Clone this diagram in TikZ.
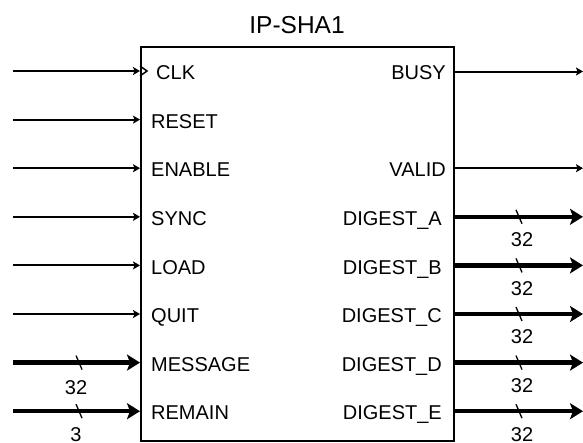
\documentclass[tikz,border=0pt]{standalone}
\usepackage{fontspec}
\setmainfont{Liberation Sans}
\usetikzlibrary{arrows.meta,calc}
\begin{document}
\begin{tikzpicture}[x=1pt,y=-1pt,
  lbl/.style={inner sep=0pt,font=\fontsize{20}{24}\selectfont},
  inl/.style={lbl,anchor=base west},
  outl/.style={lbl,anchor=base east},
  wid/.style={lbl,anchor=center},
  sig/.style={line width=2pt,-{Stealth[length=7pt,width=8pt,inset=1.5pt]}},
  bus/.style={line width=4.5pt,-{Stealth[length=13pt,width=16pt,inset=3pt]}},
  tick/.style={line width=1.3pt},
  box/.style={draw,line width=2pt,minimum width=313pt,minimum height=394pt,inner sep=0pt}]
\useasboundingbox (0,0) rectangle (583,442);
\node[box] (ip) at (297.5,244) {};
\node[lbl,font=\fontsize{24.5}{28}\selectfont] (title) at (297,25) {IP-SHA1};
% input coordinates
\coordinate (iclk) at (13,71);
\coordinate (irst) at (13,119.6);
\coordinate (ien) at (13,168.2);
\coordinate (isync) at (13,216.8);
\coordinate (iload) at (13,265.4);
\coordinate (iquit) at (13,314);
\coordinate (imsg) at (13,362.6);
\coordinate (irem) at (13,411.2);
% output coordinates
\coordinate (obusy) at (583,71.5);
\coordinate (ovalid) at (583,168.2);
\coordinate (oa) at (583,216.8);
\coordinate (ob) at (583,265.4);
\coordinate (oc) at (583,314);
\coordinate (od) at (583,362.6);
\coordinate (oe) at (583,411.2);
% input signals
\draw[sig] (iclk) -- (iclk -| ip.west);
\draw[sig] (irst) -- (irst -| ip.west);
\draw[sig] (ien) -- (ien -| ip.west);
\draw[sig] (isync) -- (isync -| ip.west);
\draw[sig] (iload) -- (iload -| ip.west);
\draw[sig] (iquit) -- (iquit -| ip.west);
\draw[bus] (imsg) -- coordinate[pos=0.52] (tmsg) (imsg -| ip.west);
\draw[bus] (irem) -- coordinate[pos=0.52] (trem) (irem -| ip.west);
% clock mark
\coordinate (ck) at (iclk -| ip.west);
\draw[line width=1.5pt,line join=miter] ($(ck)+(0,-5)$) -- ($(ck)+(7,0)$) -- ($(ck)+(0,5)$);
% output signals
\draw[sig] (obusy -| ip.east) -- (obusy);
\draw[sig] (ovalid -| ip.east) -- (ovalid);
\draw[bus] (oa -| ip.east) -- coordinate[pos=0.5] (ta) (oa);
\draw[bus] (ob -| ip.east) -- coordinate[pos=0.5] (tb) (ob);
\draw[bus] (oc -| ip.east) -- coordinate[pos=0.5] (tc) (oc);
\draw[bus] (od -| ip.east) -- coordinate[pos=0.5] (td) (od);
\draw[bus] (oe -| ip.east) -- coordinate[pos=0.5] (te) (oe);
% bus ticks and widths
\foreach \t in {tmsg,trem,ta,tb,tc,td,te}{
  \draw[tick] ($(\t)+(-3,-7)$) -- ($(\t)+(3,7)$);
}
\node[wid] (wmsg) at ($(tmsg)+(-3,25)$) {32};
\node[wid] (wrem) at ($(trem)+(-3,23)$) {3};
\node[wid] (wa) at ($(ta)+(3,23)$) {32};
\node[wid] (wb) at ($(tb)+(3,23)$) {32};
\node[wid] (wc) at ($(tc)+(3,23)$) {32};
\node[wid] (wd) at ($(td)+(3,23)$) {32};
\node[wid] (we) at ($(te)+(3,23)$) {32};
% input labels
\node[inl] (lclk) at (156,79.7) {CLK};
\node[inl] (lrst) at (151,128.3) {RESET};
\node[inl] (len) at (151,176.9) {ENABLE};
\node[inl] (lsync) at (151,225.5) {SYNC};
\node[inl] (lload) at (151,274.1) {LOAD};
\node[inl] (lquit) at (151,322.7) {QUIT};
\node[inl] (lmsg) at (151,371.3) {MESSAGE};
\node[inl] (lrem) at (151,419.9) {REMAIN};
% output labels
\node[outl] (lbusy) at (446,79.7) {BUSY};
\node[outl] (lvalid) at (446,176.9) {VALID};
\node[outl] (la) at (442,225.5) {DIGEST\_A};
\node[outl] (lb) at (442,274.1) {DIGEST\_B};
\node[outl] (lc) at (442,322.7) {DIGEST\_C};
\node[outl] (ld) at (442,371.3) {DIGEST\_D};
\node[outl] (le) at (442,419.9) {DIGEST\_E};
\end{tikzpicture}
\end{document}
